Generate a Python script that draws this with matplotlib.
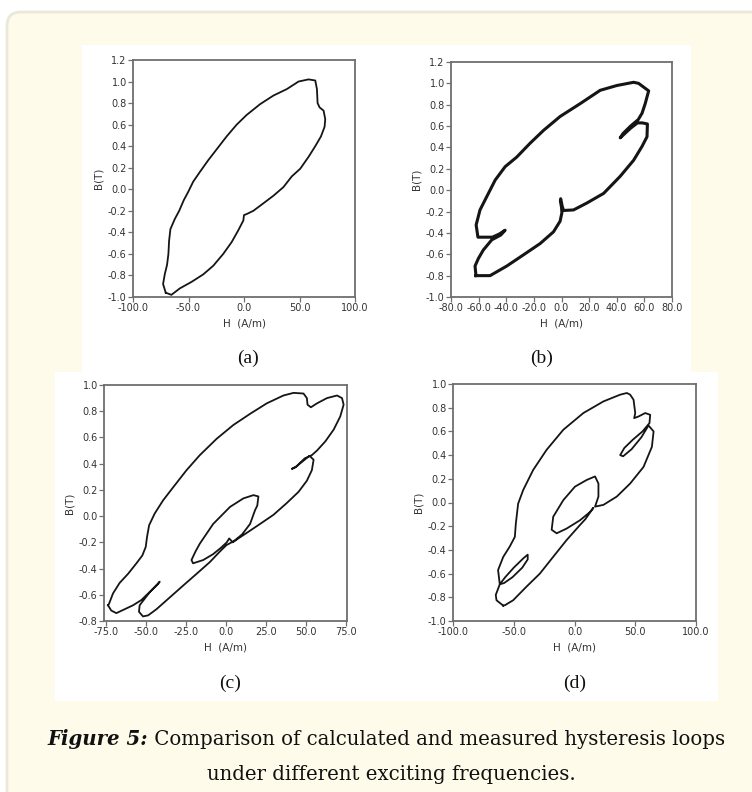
import matplotlib
matplotlib.use("Agg")
import matplotlib.pyplot as plt
from matplotlib.patches import FancyBboxPatch, Rectangle
from matplotlib.transforms import IdentityTransform
from matplotlib.ticker import FormatStrFormatter

plt.rcParams['axes.unicode_minus'] = False

W, H = 752, 792

### DATA
# (a)
ha = [-70.5, -72.9, -71.4, -69.3, -68.1, -67.5, -66.3, -62.3, -58.4, -54.2, -50.3, -45.8,
      -39.8, -32.2, -24.7, -15.7, -6.6, 2.4, 14.5, 26.5, 38.6, 49.1, 58.1, 64.2, 65.7, 66.3,
      68.1, 71.7, 73.2, 72.6, 69.3, 64.2, 58.1, 50.6, 43.1, 35.5, 26.5, 17.5, 8.4, 2.4, 0.0,
      -0.6, -5.1, -11.1, -18.7, -27.7, -36.7, -47.3, -57.8, -65.4, -70.5]
ba = [-0.96, -0.88, -0.79, -0.70, -0.60, -0.48, -0.37, -0.275, -0.20, -0.10, -0.025, 0.07,
      0.16, 0.27, 0.37, 0.49, 0.60, 0.69, 0.79, 0.87, 0.93, 1.00, 1.02, 1.01, 0.93, 0.80,
      0.76, 0.73, 0.65, 0.58, 0.49, 0.40, 0.30, 0.19, 0.12, 0.02, -0.06, -0.13, -0.20, -0.23,
      -0.24, -0.29, -0.38, -0.49, -0.60, -0.71, -0.79, -0.86, -0.92, -0.98, -0.96]

# (b)
hb = [-61.9, -51.7, -39.6, -27.5, -15.5, -5.8, -1.0, 0.3, 0.0, -0.8, -0.6, 0.5, 1.5, 8.7,
      18.4, 30.5, 42.5, 52.2, 58.3, 61.9, 62.2, 58.5, 55.0, 50.0, 45.0, 42.5, 44.5, 50.0,
      55.5, 58.3, 60.6, 63.1, 55.8, 52.2, 40.1, 28.0, 13.5, -1.0, -13.0, -22.7, -32.4,
      -40.8, -48.0, -54.1, -59.0, -61.8, -60.5, -50.0, -45.0, -40.8, -44.0, -50.5, -56.6,
      -60.2, -62.6, -61.9]
bb = [-0.80, -0.80, -0.71, -0.605, -0.50, -0.39, -0.29, -0.21, -0.16, -0.10, -0.08, -0.15,
      -0.19, -0.185, -0.12, -0.03, 0.13, 0.28, 0.41, 0.50, 0.62, 0.63, 0.63, 0.58, 0.52,
      0.49, 0.53, 0.60, 0.66, 0.72, 0.81, 0.93, 1.00, 1.01, 0.98, 0.935, 0.81, 0.69, 0.56,
      0.44, 0.31, 0.22, 0.095, -0.06, -0.185, -0.325, -0.44, -0.44, -0.41, -0.375, -0.42,
      -0.465, -0.56, -0.64, -0.71, -0.80]

# (c)
hc = [-73.5, -72.9, -70.4, -66.3, -61.0, -55.8, -52.1, -50.0, -49.2, -47.9, -44.4, -39.2,
      -32.9, -24.6, -16.3, -5.8, 4.6, 15.0, 25.4, 35.8, 42.1, 48.3, 50.4, 50.8, 52.9, 56.7,
      62.9, 69.2, 72.3, 73.3, 71.2, 67.1, 61.9, 56.7, 53.5, 49.0, 44.0, 41.0, 43.0, 48.0,
      52.0, 54.6, 53.5, 50.4, 45.2, 37.9, 29.6, 21.2, 13.9, 7.7, 4.2, 2.0, 0.5, -3.0, -8.0,
      -14.2, -20.5, -21.5, -19.0, -16.3, -8.0, 2.5, 10.8, 17.1, 20.2, 19.5, 18.1, 15.0, 10.0,
      5.0, 2.0, 0.4, -3.8, -10.0, -18.3, -26.7, -35.0, -43.3, -48.5, -51.7, -54.2, -53.8,
      -47.5, -41.3, -42.5, -48.5, -52.7, -57.9, -63.1, -68.3, -71.5, -73.5]
bc = [-0.68, -0.67, -0.59, -0.51, -0.44, -0.36, -0.30, -0.235, -0.16, -0.07, 0.02, 0.12,
      0.22, 0.35, 0.465, 0.59, 0.695, 0.78, 0.86, 0.92, 0.94, 0.935, 0.90, 0.85, 0.83, 0.86,
      0.90, 0.92, 0.90, 0.85, 0.76, 0.66, 0.57, 0.50, 0.465, 0.44, 0.38, 0.36, 0.37, 0.42,
      0.46, 0.43, 0.35, 0.27, 0.185, 0.10, 0.01, -0.06, -0.12, -0.17, -0.20, -0.17, -0.20,
      -0.24, -0.29, -0.335, -0.36, -0.335, -0.27, -0.21, -0.06, 0.07, 0.135, 0.16, 0.15,
      0.08, 0.045, -0.06, -0.14, -0.19, -0.21, -0.22, -0.27, -0.35, -0.44, -0.53, -0.62,
      -0.71, -0.757, -0.765, -0.73, -0.68, -0.58, -0.50, -0.52, -0.59, -0.64, -0.68, -0.71,
      -0.74, -0.72, -0.68]

# (d)
hd = [-58.7, -64.2, -64.8, -61.5, -57.0, -50.0, -42.0, -38.5, -38.5, -43.0, -51.0, -58.0,
      -61.5, -62.9, -58.7, -53.2, -49.1, -48.3, -46.4, -42.2, -34.0, -23.0, -9.2, 7.3, 23.8,
      37.6, 43.1, 45.8, 48.6, 50.0, 49.1, 52.7, 58.2, 62.3, 61.7, 56.0, 48.0, 41.0, 37.6,
      40.0, 47.0, 55.0, 60.9, 65.1, 63.7, 56.8, 45.8, 34.8, 23.8, 16.9, 19.7, 19.7, 16.9,
      10.0, 0.4, -9.2, -17.5, -18.8, -14.7, -6.5, 4.5, 12.8, 15.5, 9.0, 4.5, -6.5, -17.5,
      -28.5, -39.5, -50.5, -57.3, -58.7]
bd = [-0.87, -0.825, -0.78, -0.69, -0.63, -0.55, -0.47, -0.44, -0.48, -0.55, -0.63, -0.68,
      -0.69, -0.57, -0.46, -0.37, -0.29, -0.18, -0.01, 0.106, 0.275, 0.444, 0.614, 0.755,
      0.853, 0.91, 0.924, 0.91, 0.867, 0.755, 0.712, 0.726, 0.755, 0.74, 0.67, 0.60, 0.53,
      0.46, 0.40, 0.39, 0.45, 0.55, 0.65, 0.60, 0.47, 0.30, 0.16, 0.05, -0.02, -0.035, 0.05,
      0.16, 0.22, 0.19, 0.134, 0.02, -0.12, -0.23, -0.26, -0.22, -0.15, -0.08, -0.045,
      -0.14, -0.19, -0.317, -0.458, -0.60, -0.71, -0.825, -0.867, -0.87]

panel_labels = ['(a)', '(b)', '(c)', '(d)']
xticks_a = [-100, -50, 0, 50, 100]
xticks_b = [-80, -60, -40, -20, 0, 20, 40, 60, 80]
xticks_c = [-75, -50, -25, 0, 25, 50, 75]
xticks_d = [-100, -50, 0, 50, 100]
yticks_ab = [-1.0, -0.8, -0.6, -0.4, -0.2, 0.0, 0.2, 0.4, 0.6, 0.8, 1.0, 1.2]
yticks_c = [-0.8, -0.6, -0.4, -0.2, 0.0, 0.2, 0.4, 0.6, 0.8, 1.0]
yticks_d = [-1.0, -0.8, -0.6, -0.4, -0.2, 0.0, 0.2, 0.4, 0.6, 0.8, 1.0]
caption_bold = 'Figure 5:'
caption_rest = ' Comparison of calculated and measured hysteresis loops'
caption_line2 = 'under different exciting frequencies.'

fig = plt.figure(figsize=(W / 100, H / 100), dpi=100)
fig.patch.set_facecolor('white')

def px(x0, y0, x1, y1):
    # pixel box (top-left origin) -> figure fraction [l, b, w, h]
    return [x0 / W, 1 - y1 / H, (x1 - x0) / W, (y1 - y0) / H]

# cream card with rounded border
card = FancyBboxPatch((7, -30), W + 40, H - 12 + 30,
                      boxstyle='round,pad=0,rounding_size=14',
                      transform=IdentityTransform(), facecolor='#fefbea',
                      edgecolor='#ebe7da', linewidth=2.0, zorder=-3)
fig.patches.append(card)

# white picture areas
for (x0, y0, x1, y1) in [(82, 45, 691, 373), (55, 372, 718, 701)]:
    fig.patches.append(Rectangle((x0, H - y1), x1 - x0, y1 - y0,
                                 transform=IdentityTransform(),
                                 facecolor='white', edgecolor='none', zorder=-2))

### PANELS
panels = [
    (ha, ba, (133, 60, 355, 297), (-100, 100), (-1.0, 1.2), xticks_a, yticks_ab, 1.3, (248, 358)),
    (hb, bb, (451, 62, 672, 297), (-80, 80), (-1.0, 1.2), xticks_b, yticks_ab, 2.2, (542, 358)),
    (hc, bc, (104, 385, 347, 621), (-76.0, 75.4), (-0.8, 1.0), xticks_c, yticks_c, 1.3, (230, 683)),
    (hd, bd, (453, 384, 696, 621), (-100, 100), (-1.0, 1.0), xticks_d, yticks_d, 1.3, (575, 683)),
]

for i, (hx, by, box, xl, yl, xt, yt, lw, lab) in enumerate(panels):
    ax = fig.add_axes(px(*box))
    ax.set_facecolor('white')
    ax.plot(hx, by, color='#151515', lw=lw, solid_joinstyle='round')
    ax.set_xlim(*xl)
    ax.set_ylim(*yl)
    ax.set_xticks(xt)
    ax.set_yticks(yt)
    ax.xaxis.set_major_formatter(FormatStrFormatter('%.1f'))
    ax.yaxis.set_major_formatter(FormatStrFormatter('%.1f'))
    ax.tick_params(direction='out', length=3.5, width=0.9, color='#707070',
                   labelsize=7, labelcolor='#333333', pad=1)
    for s in ax.spines.values():
        s.set_color('#6e6e6e')
        s.set_linewidth(1.3)
    ax.set_xlabel('H  (A/m)', fontsize=7.5, color='#333333', labelpad=4)
    ax.set_ylabel('B(T)', fontsize=7.5, color='#333333', labelpad=3)
    fig.text(lab[0] / W, 1 - lab[1] / H, panel_labels[i], ha='center', va='center',
             fontsize=14, family='Liberation Serif', color='#111111')

### CAPTION
t1 = fig.text(0, 1 - 745 / H, caption_bold, fontsize=14.2, family='DejaVu Serif',
              weight='bold', style='italic', color='#111111', va='baseline', ha='left')
t2 = fig.text(0, 1 - 745 / H, caption_rest, fontsize=14.2, family='DejaVu Serif',
              color='#111111', va='baseline', ha='left')
r = fig.canvas.get_renderer()
w1 = t1.get_window_extent(r).width
w2 = t2.get_window_extent(r).width
x_start = 386 - (w1 + w2) / 2
t1.set_x(x_start / W)
t2.set_x((x_start + w1) / W)
fig.text(391 / W, 1 - 780 / H, caption_line2, fontsize=14.2, family='DejaVu Serif',
         color='#111111', va='baseline', ha='center')

fig.savefig('out.png', dpi=100, facecolor=fig.get_facecolor())
